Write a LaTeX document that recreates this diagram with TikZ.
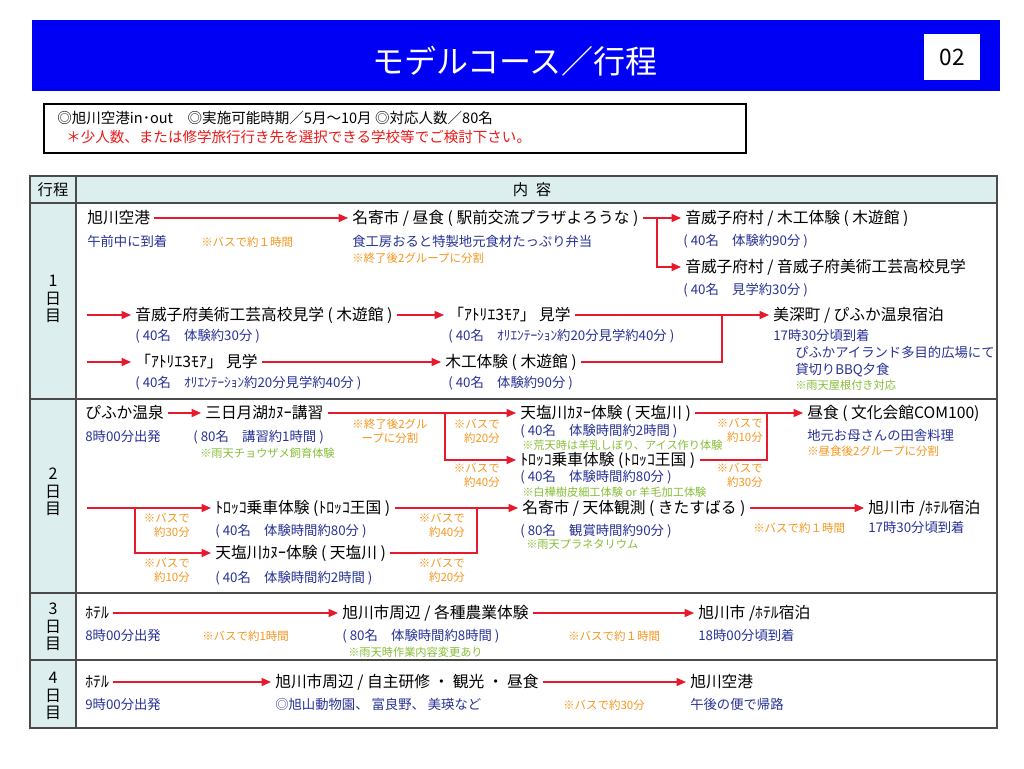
\documentclass[tikz,border=0pt]{standalone}
\usepackage{fontspec}
\setmainfont{Noto Sans CJK JP}
\usetikzlibrary{arrows.meta}
\definecolor{barblue}{RGB}{0,0,245}
\definecolor{headteal}{RGB}{221,238,238}
\definecolor{gridgray}{RGB}{75,75,75}
\definecolor{subblue}{RGB}{40,50,150}
\definecolor{noteorange}{RGB}{245,150,30}
\definecolor{raingreen}{RGB}{135,190,55}
\definecolor{arrowred}{RGB}{230,25,45}
\definecolor{infored}{RGB}{235,25,25}
\tikzset{
	base/.style={inner xsep=3pt, inner ysep=0pt},
	txt/.style={base, anchor=west, text height=0.88em, text depth=0.12em, font=\fontsize{11.8}{13}\selectfont},
	sub/.style={txt, text=subblue, font=\fontsize{10}{12}\selectfont},
	note/.style={txt, text=noteorange, font=\fontsize{8.6}{10.5}\selectfont},
	rain/.style={txt, text=raingreen, font=\fontsize{8.4}{10}\selectfont},
	bus/.style={base, anchor=east, align=right, text=noteorange, font=\fontsize{8.6}{10.5}\selectfont},
	day/.style={align=center, font=\fontsize{12}{13}\selectfont},
	grid/.style={draw=gridgray, line width=1.2pt},
	arr/.style={draw=arrowred, line width=1pt, -{Triangle[length=7pt,width=6pt]}},
	wire/.style={draw=arrowred, line width=1pt},
}
\begin{document}
\begin{tikzpicture}[x=0.75pt,y=0.75pt,yscale=-1]
	\useasboundingbox [fill=white] (0,0) rectangle (1024,768);
	\fill [barblue] (32,20) rectangle (1000,91);
	\node [text=white, font=\fontsize{24}{26}\selectfont] (title) at (515,61) {モデルコース／行程};
	\node [fill=white, minimum width=42pt, minimum height=35pt, font=\fontsize{17}{18}\selectfont] (page) at (952,57) {02};
	
	\draw [black, line width=0.8pt] (44,104) rectangle (746,153);
	\node [txt, font=\fontsize{10.9}{12}\selectfont] (info1) at (53,118) {◎旭川空港in･out　◎実施可能時期／5月～10月 ◎対応人数／80名};
	\node [txt, text=infored, font=\fontsize{10.9}{12}\selectfont] (info2) at (62,137) {＊少人数、または修学旅行行き先を選択できる学校等でご検討下さい。};
	
	\fill [headteal] (30,176) rectangle (997,203);
	\fill [headteal] (30,203) rectangle (76,728);
	\draw [grid] (30,176) rectangle (997,728);
	\draw [grid] (30,203) -- (997,203);
	\draw [grid] (30,399) -- (997,399);
	\draw [grid] (30,593) -- (997,593);
	\draw [grid] (30,660) -- (997,660);
	\draw [grid] (76,176) -- (76,728);
	\node [font=\fontsize{11.5}{12}\selectfont] (head1) at (53,190) {行程};
	\node [font=\fontsize{11.5}{12}\selectfont] (head2) at (532,190) {内\hspace{0.5em}容};
	
	\node [day] (day1) at (53,299) {1\\日\\目};
	\node [day] (day2) at (53,492) {2\\日\\目};
	\node [day] (day3) at (53,627) {3\\日\\目};
	\node [day] (day4) at (53,696) {4\\日\\目};
	
	\node [txt] (a1) at (83,218) {旭川空港};
	\node [sub] (a1s) at (83,241) {午前中に到着};
	\node [note] (a1n) at (197,241) {※バスで約１時間};
	\node [txt] (a2) at (348,218) {名寄市 / 昼食 ( 駅前交流プラザよろうな )};
	\node [sub] (a2s) at (348,241) {食工房おると特製地元食材たっぷり弁当};
	\node [note] (a2n) at (348,257) {※終了後2グループに分割};
	\node [txt] (a3) at (681,218) {音威子府村 / 木工体験 ( 木遊館 )};
	\node [sub] (a3s) at (679,240) {( 40名　体験約90分 )};
	\node [txt] (a4) at (681,267) {音威子府村 / 音威子府美術工芸高校見学};
	\node [sub] (a4s) at (679,289) {( 40名　見学約30分 )};
	\coordinate (a2x) at (657,218);
	
	\coordinate (a5x) at (87,315);
	\node [txt] (a5) at (131,315) {音威子府美術工芸高校見学 ( 木遊館 )};
	\node [sub] (a5s) at (131,335) {( 40名　体験約30分 )};
	\node [txt] (a6) at (444,315) {「ｱﾄﾘｴ3ﾓｱ」 見学};
	\node [sub] (a6s) at (444,335) {( 40名　ｵﾘｴﾝﾃｰｼｮﾝ約20分見学約40分 )};
	\node [txt] (a7) at (769,315) {美深町 / ぴふか温泉宿泊};
	\node [sub] (a7s) at (769,335) {17時30分頃到着};
	\node [sub] (a7b) at (791,352) {ぴふかアイランド多目的広場にて};
	\node [sub] (a7c) at (791,369) {貸切りBBQ夕食};
	\node [rain] (a7n) at (791,384) {※雨天屋根付き対応};
	\coordinate (a8x) at (87,362);
	\node [txt] (a8) at (131,362) {「ｱﾄﾘｴ3ﾓｱ」 見学};
	\node [sub] (a8s) at (131,382) {( 40名　ｵﾘｴﾝﾃｰｼｮﾝ約20分見学約40分 )};
	\node [txt] (a9) at (441,362) {木工体験 ( 木遊館 )};
	\node [sub] (a9s) at (444,382) {( 40名　体験約90分 )};
	\coordinate (a7x) at (722,315);
	
	\draw [arr] (a1) to (a2);
	\draw [arr] (a2) to (a3);
	\draw [arr] (a2x) |- (a4.west);
	\draw [arr] (a5x) to (a5);
	\draw [arr] (a5) to (a6);
	\draw [arr] (a6) to (a7);
	\draw [arr] (a8x) to (a8);
	\draw [arr] (a8) to (a9);
	\draw [wire] (a9.east) -| (a7x);
	
	\node [txt] (b1) at (81,413) {ぴふか温泉};
	\node [sub] (b1s) at (81,436) {8時00分出発};
	\node [txt] (b2) at (201,413) {三日月湖ｶﾇｰ講習};
	\node [sub] (b2s) at (189,436) {( 80名　講習約1時間 )};
	\node [rain] (b2r) at (196,452) {※雨天チョウザメ飼育体験};
	\node [bus, anchor=center, align=center] (b2n) at (390,431) {※終了後2グル\\ープに分割};
	\coordinate (b2x) at (445,413);
	\node [bus] (b3n) at (504,431) {※バスで\\約20分};
	\node [bus] (b4n) at (504,475) {※バスで\\約40分};
	\node [txt] (b3) at (516,413) {天塩川ｶﾇｰ体験 ( 天塩川 )};
	\node [sub] (b3s) at (516,430) {( 40名　体験時間約2時間 )};
	\node [rain] (b3r) at (518,444) {※荒天時は羊乳しぼり、アイス作り体験};
	\node [txt] (b4) at (516,460) {ﾄﾛｯｺ乗車体験 (ﾄﾛｯｺ王国 )};
	\node [sub] (b4s) at (516,476) {( 40名　体験時間約80分 )};
	\node [rain] (b4r) at (518,491) {※白樺樹皮細工体験 or 羊毛加工体験};
	\coordinate (b5x) at (767,413);
	\node [bus] (b3b) at (767,430) {※バスで\\約10分};
	\node [bus] (b4b) at (767,475) {※バスで\\約30分};
	\node [txt] (b5) at (803,413) {昼食 ( 文化会館COM100)};
	\node [sub] (b5s) at (803,435) {地元お母さんの田舎料理};
	\node [note] (b5n) at (803,450) {※昼食後2グループに分割};
	
	\draw [arr] (b1) to (b2);
	\draw [arr] (b2) to (b3);
	\draw [arr] (b2x) |- (b4.west);
	\draw [arr] (b3) to (b5);
	\draw [wire] (b4.east) -| (b5x);
	
	\coordinate (b6x) at (87,508);
	\coordinate (b6y) at (135,508);
	\node [txt] (b6) at (211,508) {ﾄﾛｯｺ乗車体験 (ﾄﾛｯｺ王国 )};
	\node [sub] (b6s) at (211,530) {( 40名　体験時間約80分 )};
	\node [txt] (b7) at (211,553) {天塩川ｶﾇｰ体験 ( 天塩川 )};
	\node [sub] (b7s) at (211,577) {( 40名　体験時間約2時間 )};
	\node [bus] (b6n) at (194,525) {※バスで\\約30分};
	\node [bus] (b7n) at (194,570) {※バスで\\約10分};
	\coordinate (b8x) at (477,508);
	\node [bus] (b6b) at (469,525) {※バスで\\約40分};
	\node [bus] (b7b) at (469,570) {※バスで\\約20分};
	\node [txt] (b8) at (518,508) {名寄市 / 天体観測 ( きたすばる )};
	\node [sub] (b8s) at (516,530) {( 80名　観賞時間約90分 )};
	\node [rain] (b8r) at (522,543) {※雨天プラネタリウム};
	\node [note] (b8n) at (749,527) {※バスで約１時間};
	\node [txt] (b9) at (864,508) {旭川市 /ﾎﾃﾙ宿泊};
	\node [sub] (b9s) at (864,527) {17時30分頃到着};
	
	\draw [arr] (b6x) to (b6);
	\draw [arr] (b6y) |- (b7.west);
	\draw [arr] (b6) to (b8);
	\draw [wire] (b7.east) -| (b8x);
	\draw [arr] (b8) to (b9);
	
	\node [txt] (c1) at (81,613) {ﾎﾃﾙ};
	\node [sub] (c1s) at (81,635) {8時00分出発};
	\node [note] (c1n) at (198,635) {※バスで約1時間};
	\node [txt] (c2) at (338,613) {旭川市周辺 / 各種農業体験};
	\node [sub] (c2s) at (338,635) {( 80名　体験時間約8時間 )};
	\node [rain] (c2r) at (344,651) {※雨天時作業内容変更あり};
	\node [note] (c2n) at (564,635) {※バスで約１時間};
	\node [txt] (c3) at (694,613) {旭川市 /ﾎﾃﾙ宿泊};
	\node [sub] (c3s) at (694,635) {18時00分頃到着};
	
	\draw [arr] (c1) to (c2);
	\draw [arr] (c2) to (c3);
	
	\node [txt] (d1) at (81,682) {ﾎﾃﾙ};
	\node [sub] (d1s) at (81,704) {9時00分出発};
	\node [txt] (d2) at (271,682) {旭川市周辺 / 自主研修 ・ 観光 ・ 昼食};
	\node [sub] (d2s) at (271,704) {◎旭山動物園、 富良野、 美瑛など};
	\node [note] (d2n) at (559,704) {※バスで約30分};
	\node [txt] (d3) at (686,682) {旭川空港};
	\node [sub] (d3s) at (686,704) {午後の便で帰路};
	
	\draw [arr] (d1) to (d2);
	\draw [arr] (d2) to (d3);
\end{tikzpicture}
\end{document}
